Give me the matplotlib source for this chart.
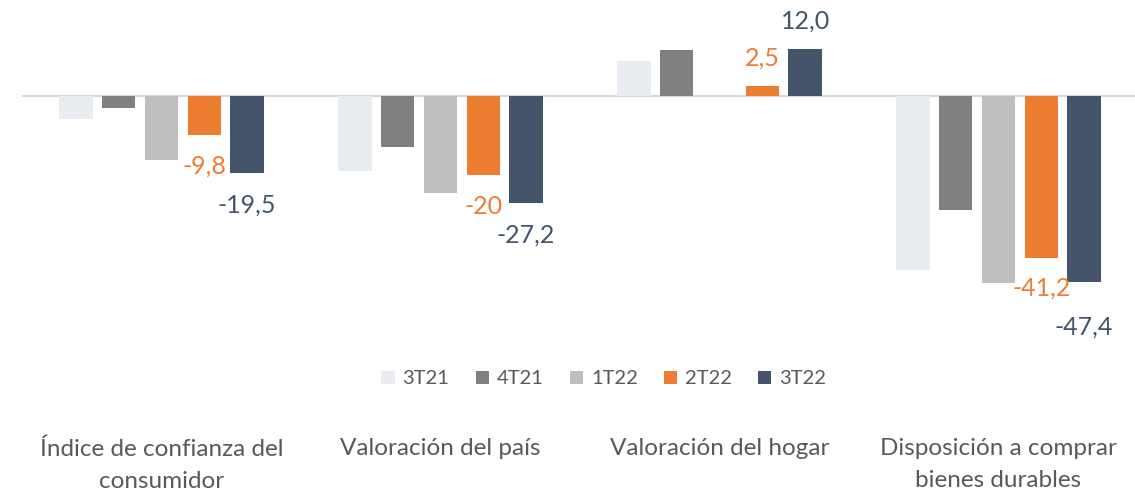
import matplotlib
matplotlib.use("Agg")
import matplotlib.pyplot as plt
import numpy as np

plt.rcParams['font.family'] = ['Lato', 'DejaVu Sans']

# datos
categorias = ["Índice de confianza del\nconsumidor", "Valoración del país",
              "Valoración del hogar", "Disposición a comprar\nbienes durables"]
series = ["3T21", "4T21", "1T22", "2T22", "3T22"]
v_3t21 = [-5.9, -19.0, 9.0, -44.3]
v_4t21 = [-3.0, -12.9, 11.8, -28.9]
v_1t22 = [-16.2, -24.7, 0.0, -47.7]
v_2t22 = [-9.8, -20.0, 2.5, -41.2]
v_3t22 = [-19.5, -27.2, 12.0, -47.4]
etiquetas_2t22 = ["-9,8", "-20", "2,5", "-41,2"]
etiquetas_3t22 = ["-19,5", "-27,2", "12,0", "-47,4"]

colores = ["#E9EDF2", "#808080", "#BFBFBF", "#ED7D31", "#44546A"]
valores = [v_3t21, v_4t21, v_1t22, v_2t22, v_3t22]

W, H = 1135, 491
fig = plt.figure(figsize=(W / 100, H / 100), dpi=100)
# ejes en pixeles: cero en y=96, 3.93 px por unidad
top_px, bot_px, zero_px, escala = 0, 430, 96, 3.93
ax = fig.add_axes([22 / W, 1 - bot_px / H, 1116 / W, (bot_px - top_px) / H])
ax.set_ylim(-(bot_px - zero_px) / escala, (zero_px - top_px) / escala)
ax.set_xlim(-0.5, 3.5)

x = np.arange(len(categorias))
paso, ancho = 0.1535, 0.12
barras = []
for i, (nom, vals, col) in enumerate(zip(series, valores, colores)):
    b = ax.bar(x + (i - 2) * paso, vals, ancho, color=col, label=nom, zorder=2)
    barras.append(b)

ax.axhline(0, color="#D9D9D9", lw=1.5, zorder=1)

# etiquetas de datos (solo 2T22 y 3T22)
desp_2t22 = [-23, -23, 20, -22]
desp_3t22 = [-23, -23, 20, -32]
for serie_idx, etiq, desp in [(3, etiquetas_2t22, desp_2t22), (4, etiquetas_3t22, desp_3t22)]:
    for j, rect in enumerate(barras[serie_idx]):
        v = valores[serie_idx][j]
        ax.annotate(etiq[j], (rect.get_x() + rect.get_width() / 2, v),
                    xytext=(0, desp[j]), textcoords="offset points",
                    ha="center", va="center", fontsize=18, color=colores[serie_idx])

ax.set_xticks(x)
ax.set_xticklabels(categorias, fontsize=17.5, color="#595959", linespacing=1.65)
ax.tick_params(axis="x", length=0, pad=6)
ax.set_yticks([])
for s in ax.spines.values():
    s.set_visible(False)

fig.legend(loc="center", bbox_to_anchor=(604 / W, 1 - 379 / H), ncol=5, frameon=False,
           fontsize=14.5, labelcolor="#595959", handlelength=0.65, handleheight=0.65,
           handletextpad=0.4, columnspacing=1.3)

fig.savefig("out.png", dpi=100)
